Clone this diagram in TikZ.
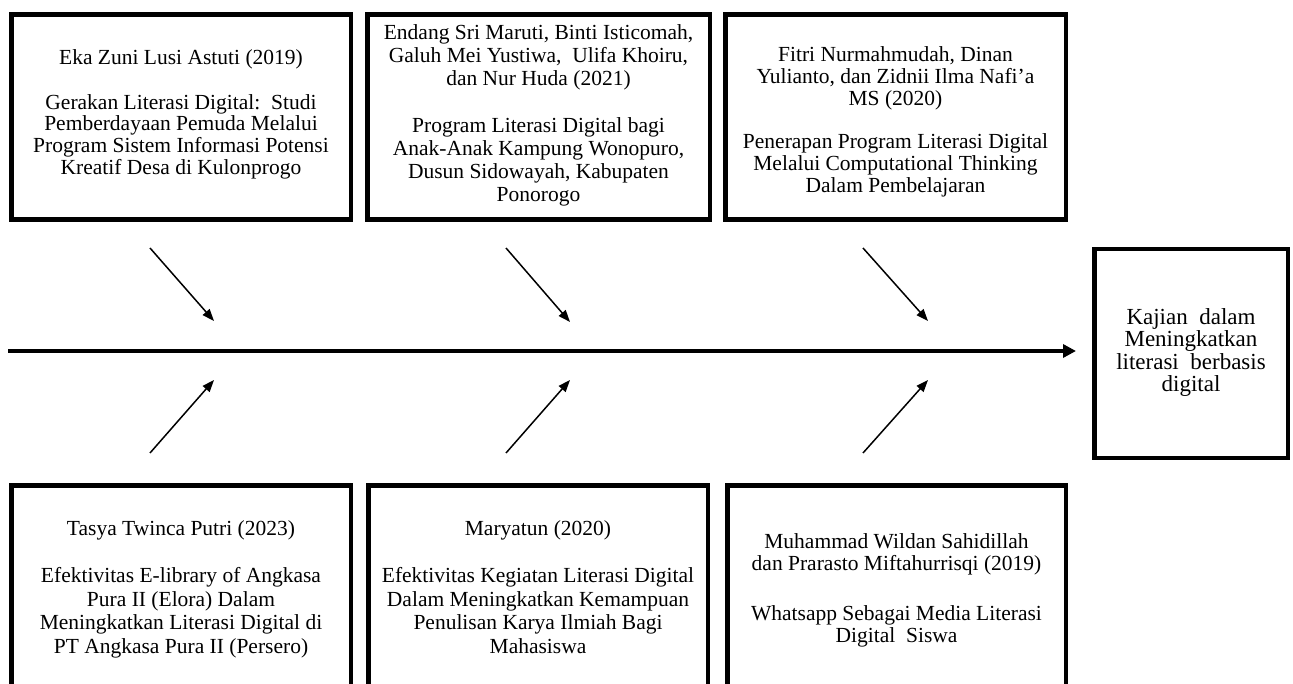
\documentclass[tikz,border=0pt]{standalone}
\usepackage{fontspec}
\setmainfont{Liberation Serif}
\usetikzlibrary{arrows.meta}
\newcommand{\firstln}{\rule{0pt}{15pt}}
\begin{document}
\begin{tikzpicture}[x=1pt,y=-1pt,
  refbox/.style={draw=black,line width=4.5pt,inner sep=0pt},
  textblock/.style={align=center,inner sep=0pt,anchor=north},
  smallarrow/.style={line width=1.5pt,-{Triangle[length=12pt,width=9pt]}},
  mainarrow/.style={line width=4pt,-{Triangle[length=13pt,width=13pt]}}]
\useasboundingbox (0,0) rectangle (1293,684);
\clip (0,0) rectangle (1293,684);
\fill[white] (0,0) rectangle (1293,684);
% top boxes
\node[refbox,minimum width=339.5pt,minimum height=205pt] (b1) at (181,117) {};
\node[refbox,minimum width=342.5pt,minimum height=205pt] (b2) at (538.5,117) {};
\node[refbox,minimum width=340.5pt,minimum height=205pt] (b3) at (895.5,117) {};
% bottom boxes
\node[refbox,minimum width=339.5pt,minimum height=204.5pt] (b4) at (181,587.5) {};
\node[refbox,minimum width=339.5pt,minimum height=204.5pt] (b5) at (538,587.5) {};
\node[refbox,minimum width=338.5pt,minimum height=204.5pt] (b6) at (896.5,587.5) {};
% result box
\node[refbox,minimum width=193.5pt,minimum height=208.5pt] (R) at (1191,353.5) {};
% texts (north = first baseline - 15)
\node[textblock,font=\fontsize{21.5}{21.8}\selectfont] (b1t) at (181,49)
 {\firstln Eka Zuni Lusi Astuti (2019)\\[23.2pt]
  Gerakan Literasi Digital:\ \ Studi\\
  Pemberdayaan Pemuda Melalui\\
  Program Sistem Informasi Potensi\\
  Kreatif Desa di Kulonprogo};
\node[textblock,font=\fontsize{21.5}{23.2}\selectfont] (b2t) at (538.5,24)
 {\firstln Endang Sri Maruti, Binti Isticomah,\\
  Galuh Mei Yustiwa,\ \ Ulifa Khoiru,\\
  dan Nur Huda (2021)\\[23.3pt]
  Program Literasi Digital bagi\\
  Anak-Anak Kampung Wonopuro,\\
  Dusun Sidowayah, Kabupaten\\
  Ponorogo};
\node[textblock,font=\fontsize{21.5}{21.7}\selectfont] (b3t) at (895.5,46.7)
 {\firstln Fitri Nurmahmudah, Dinan\\
  Yulianto, dan Zidnii Ilma Nafi’a\\
  MS (2020)\\[21.7pt]
  Penerapan Program Literasi Digital\\
  Melalui Computational Thinking\\
  Dalam Pembelajaran};
\node[textblock,font=\fontsize{21.5}{23.6}\selectfont] (b4t) at (181,520)
 {\firstln Tasya Twinca Putri (2023)\\[23.6pt]
  Efektivitas E-library of Angkasa\\
  Pura II (Elora) Dalam\\
  Meningkatkan Literasi Digital di\\
  PT Angkasa Pura II (Persero)};
\node[textblock,font=\fontsize{21.5}{23.6}\selectfont] (b5t) at (538,520)
 {\firstln Maryatun (2020)\\[23.6pt]
  Efektivitas Kegiatan Literasi Digital\\
  Dalam Meningkatkan Kemampuan\\
  Penulisan Karya Ilmiah Bagi\\
  Mahasiswa};
\node[textblock,font=\fontsize{21.5}{22}\selectfont] (b6t) at (896.5,533)
 {\firstln Muhammad Wildan Sahidillah\\
  dan Prarasto Miftahurrisqi (2019)\\[28pt]
  Whatsapp Sebagai Media Literasi\\
  Digital\ \ Siswa};
\node[textblock,font=\fontsize{23}{22.5}\selectfont] (Rt) at (1191,308)
 {\firstln Kajian\ \ dalam\\Meningkatkan\\literasi\ \ berbasis\\digital};
% spine
\coordinate (ms) at (8,351);
\coordinate (me) at (1076,351);
\draw[mainarrow] (ms) -- (me);
% ribs
\coordinate (t1s) at (150,248); \coordinate (t1e) at (214,321);
\coordinate (t2s) at (506,248); \coordinate (t2e) at (570,322);
\coordinate (t3s) at (863,248); \coordinate (t3e) at (928,321);
\coordinate (u1s) at (150,453); \coordinate (u1e) at (214,380);
\coordinate (u2s) at (506,453); \coordinate (u2e) at (570,380);
\coordinate (u3s) at (863,453); \coordinate (u3e) at (928,380);
\draw[smallarrow] (t1s) -- (t1e);
\draw[smallarrow] (t2s) -- (t2e);
\draw[smallarrow] (t3s) -- (t3e);
\draw[smallarrow] (u1s) -- (u1e);
\draw[smallarrow] (u2s) -- (u2e);
\draw[smallarrow] (u3s) -- (u3e);
\end{tikzpicture}
\end{document}
